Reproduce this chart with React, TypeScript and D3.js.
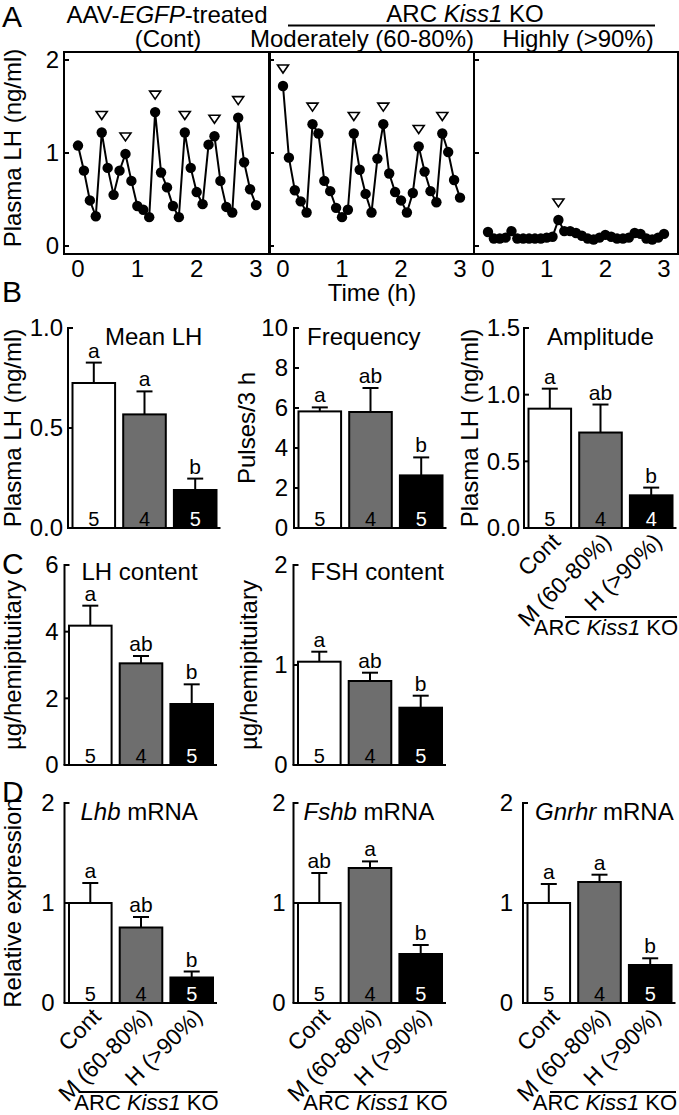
import React, { useEffect, useRef } from 'react';
import * as d3 from 'd3';

const FONT = '"Liberation Sans", Arial, Helvetica, sans-serif';

// ---- Panel A: plasma LH every 6 min for 3 h ----
const sampleTimes = [0, 0.1, 0.2, 0.3, 0.4, 0.5, 0.6, 0.7, 0.8, 0.9, 1.0, 1.1, 1.2, 1.3, 1.4, 1.5,
  1.6, 1.7, 1.8, 1.9, 2.0, 2.1, 2.2, 2.3, 2.4, 2.5, 2.6, 2.7, 2.8, 2.9, 3.0];
const contLH = [1.08, 0.81, 0.49, 0.32, 1.22, 0.84, 0.55, 0.81, 0.99, 0.70, 0.43, 0.39, 0.31, 1.44, 0.79, 0.63,
  0.43, 0.31, 1.22, 0.84, 0.58, 0.45, 1.09, 1.18, 0.70, 0.42, 0.36, 1.38, 0.90, 0.61, 0.44];
const moderateLH = [1.72, 0.95, 0.60, 0.48, 0.36, 1.31, 1.21, 0.70, 0.59, 0.41, 0.31, 0.39, 1.21, 0.82, 0.56, 0.36,
  0.94, 1.31, 0.78, 0.58, 0.49, 0.36, 0.57, 1.07, 0.80, 0.59, 0.47, 1.21, 1.01, 0.71, 0.52];
const highLH = [0.15, 0.08, 0.08, 0.09, 0.16, 0.08, 0.08, 0.08, 0.08, 0.08, 0.09, 0.10, 0.28, 0.16, 0.16, 0.14,
  0.11, 0.08, 0.07, 0.09, 0.12, 0.10, 0.08, 0.08, 0.09, 0.14, 0.13, 0.08, 0.07, 0.09, 0.13];
const contPulses = [4, 8, 13, 18, 23, 27];
const moderatePulses = [0, 5, 12, 17, 23, 27];
const highPulses = [12];
const timeTicks = [0, 1, 2, 3];
const lhTicks = [0, 1, 2];

// ---- Panels B-D: group means, SEM, n, letters ----
const groups = ['Cont', 'M (60-80%)', 'H (>90%)'];
const groupFills = ['#ffffff', '#6e6e6e', '#000000'];

const meanLH = [0.725, 0.568, 0.19];
const meanLHSem = [0.102, 0.115, 0.057];
const meanLHN = [5, 4, 5];
const meanLHLetters = ['a', 'a', 'b'];

const frequency = [5.83, 5.8, 2.63];
const frequencySem = [0.2, 1.2, 0.9];
const frequencyN = [5, 4, 5];
const frequencyLetters = ['a', 'ab', 'b'];

const amplitude = [0.895, 0.716, 0.245];
const amplitudeSem = [0.15, 0.21, 0.058];
const amplitudeN = [5, 4, 4];
const amplitudeLetters = ['a', 'ab', 'b'];

const lhContent = [4.18, 3.05, 1.83];
const lhContentSem = [0.6, 0.22, 0.59];
const lhContentN = [5, 4, 5];
const lhContentLetters = ['a', 'ab', 'b'];

const fshContent = [1.033, 0.84, 0.573];
const fshContentSem = [0.1, 0.083, 0.12];
const fshContentN = [5, 4, 5];
const fshContentLetters = ['a', 'ab', 'b'];

const lhbMRNA = [1.0, 0.755, 0.255];
const lhbSem = [0.2, 0.105, 0.06];
const lhbN = [5, 4, 5];
const lhbLetters = ['a', 'ab', 'b'];

const fshbMRNA = [1.0, 1.35, 0.49];
const fshbSem = [0.3, 0.066, 0.09];
const fshbN = [5, 4, 5];
const fshbLetters = ['ab', 'a', 'b'];

const gnrhrMRNA = [1.0, 1.21, 0.38];
const gnrhrSem = [0.19, 0.073, 0.067];
const gnrhrN = [5, 4, 5];
const gnrhrLetters = ['a', 'a', 'b'];

type Seg = { t: string; i?: boolean };

function addSegs(sel: any, segs: Seg[]) {
  segs.forEach(s => {
    sel.append('tspan').attr('font-style', s.i ? 'italic' : 'normal').text(s.t);
  });
}

const App = () => {
  const svgRef = useRef<SVGSVGElement>(null);

  useEffect(() => {
    if (!svgRef.current) return;
    const svg = d3.select(svgRef.current);
    svg.selectAll('*').remove();
    svg.attr('font-family', FONT).style('white-space', 'pre');

    const text = (x: number, y: number, segs: Seg[] | string, size = 24, anchor = 'middle') => {
      const t = svg.append('text').attr('x', x).attr('y', y).attr('font-size', size).attr('text-anchor', anchor);
      if (typeof segs === 'string') t.text(segs);
      else addSegs(t, segs);
      return t;
    };

    // panel letters
    text(2, 27, 'A', 30, 'start');
    text(2, 302, 'B', 30, 'start');
    text(2, 574, 'C', 30, 'start');
    text(2, 802, 'D', 30, 'start');

    // ---------- Panel A ----------
    text(167, 23, [{ t: 'AAV-' }, { t: 'EGFP', i: true }, { t: '-treated' }]);
    text(168, 47, '(Cont)');
    text(465, 22, [{ t: 'ARC ' }, { t: 'Kiss1', i: true }, { t: ' KO' }]);
    svg.append('line').attr('x1', 288).attr('x2', 655).attr('y1', 25.5).attr('y2', 25.5)
      .attr('stroke', '#000').attr('stroke-width', 2);
    text(362, 47, 'Moderately (60-80%)');
    text(578, 47, 'Highly (>90%)');

    const aTop = 52, aBottom = 254;
    const yA = d3.scaleLinear().domain([0, 2]).range([246, 60]);
    const aPanels = [
      { x0: 64, x1: 270, values: contLH, pulses: contPulses },
      { x0: 269, x1: 474, values: moderateLH, pulses: moderatePulses },
      { x0: 474, x1: 678, values: highLH, pulses: highPulses },
    ];
    aPanels.forEach((p, pi) => {
      const x = d3.scaleLinear().domain([0, 3]).range([p.x0 + 14, p.x1 - 14]);
      const g = svg.append('g');
      g.append('rect').attr('x', p.x0).attr('y', aTop).attr('width', p.x1 - p.x0).attr('height', aBottom - aTop)
        .attr('fill', 'none').attr('stroke', '#000').attr('stroke-width', 2);
      lhTicks.forEach(v => {
        g.append('line').attr('x1', p.x0).attr('x2', p.x0 + 5).attr('y1', yA(v)).attr('y2', yA(v))
          .attr('stroke', '#000').attr('stroke-width', 2);
        if (pi === 0) text(p.x0 - 5, yA(v), String(v), 24, 'end').attr('dy', '0.35em');
      });
      timeTicks.forEach(v => text(x(v), 277, String(v), 24));

      const line = d3.line<number>().x((_, i) => x(sampleTimes[i])).y(d => yA(d));
      g.append('path').datum(p.values).attr('d', line).attr('fill', 'none')
        .attr('stroke', '#000').attr('stroke-width', 2);
      g.selectAll('circle').data(p.values).join('circle')
        .attr('cx', (_, i) => x(sampleTimes[i])).attr('cy', d => yA(d)).attr('r', 5.2).attr('fill', '#000');
      g.selectAll('path.tri').data(p.pulses).join('path').attr('class', 'tri')
        .attr('d', i => {
          const cx = x(sampleTimes[i]);
          const cy = yA(p.values[i]) - 17;
          return `M${cx - 5.5},${cy - 4}L${cx + 5.5},${cy - 4}L${cx},${cy + 4}Z`;
        })
        .attr('fill', '#fff').attr('stroke', '#000').attr('stroke-width', 1.6);
    });
    text(372, 301, 'Time (h)');
    text(21, 148, 'Plasma LH (ng/ml)').attr('transform', 'rotate(-90,21,148)');

    // ---------- Bar panels ----------
    type BarCfg = {
      axisX: number; yBottom: number; max: number; ticks: number[]; fmt: (v: number) => string;
      values: number[]; sems: number[]; ns: number[]; letters: string[];
      title: Seg[]; titleDx: number; titleDy: number; ylabel?: string; ylabelX?: number; tickGap: number;
      groupLabels?: number;
    };

    const drawBars = (c: BarCfg) => {
      const y = d3.scaleLinear().domain([0, c.max]).range([c.yBottom, c.yBottom - 200]);
      const start = c.axisX + 4.5;
      const x = d3.scaleBand<string>().domain(groups).range([start, start + 144]).paddingInner(0.16);
      const g = svg.append('g');

      g.selectAll('rect').data(c.values).join('rect')
        .attr('x', (_, i) => x(groups[i])!).attr('y', d => y(d))
        .attr('width', x.bandwidth()).attr('height', d => c.yBottom - y(d))
        .attr('fill', (_, i) => groupFills[i]).attr('stroke', '#000').attr('stroke-width', 2);

      c.values.forEach((v, i) => {
        const cx = x(groups[i])! + x.bandwidth() / 2;
        const top = y(v + c.sems[i]);
        g.append('line').attr('x1', cx).attr('x2', cx).attr('y1', y(v)).attr('y2', top)
          .attr('stroke', '#000').attr('stroke-width', 2);
        g.append('line').attr('x1', cx - 8).attr('x2', cx + 8).attr('y1', top).attr('y2', top)
          .attr('stroke', '#000').attr('stroke-width', 2);
        text(cx, top - 5, c.letters[i], 21);
        text(cx, c.yBottom - 2, String(c.ns[i]), 20).attr('fill', i === 2 ? '#fff' : '#000');
      });

      // axes
      g.append('line').attr('x1', c.axisX).attr('x2', c.axisX).attr('y1', y(c.max) - 1).attr('y2', c.yBottom)
        .attr('stroke', '#000').attr('stroke-width', 2);
      g.append('line').attr('x1', c.axisX - 1).attr('x2', start + 148).attr('y1', c.yBottom).attr('y2', c.yBottom)
        .attr('stroke', '#000').attr('stroke-width', 2);
      c.ticks.forEach(v => {
        g.append('line').attr('x1', c.axisX).attr('x2', c.axisX + 5).attr('y1', y(v)).attr('y2', y(v))
          .attr('stroke', '#000').attr('stroke-width', 2);
        text(c.axisX - c.tickGap, y(v), c.fmt(v), 24, 'end').attr('dy', '0.35em');
      });

      text(c.axisX + c.titleDx, c.yBottom - 200 + c.titleDy, c.title, 24, 'start');
      if (c.ylabel) {
        const yc = c.yBottom - 100;
        text(c.ylabelX!, yc, c.ylabel).attr('transform', `rotate(-90,${c.ylabelX},${yc})`);
      }

      if (c.groupLabels !== undefined) {
        groups.forEach((gname, i) => {
          const px = x(gname)! + x.bandwidth() / 2 + 12;
          const py = c.yBottom + 15;
          text(px, py, gname, 23, 'end').attr('transform', `rotate(-45,${px},${py})`);
        });
        const ly = c.yBottom + 89;
        g.append('line').attr('x1', c.axisX + c.groupLabels).attr('x2', c.axisX + 153)
          .attr('y1', ly).attr('y2', ly).attr('stroke', '#000').attr('stroke-width', 2);
        text(Math.min(c.axisX + 82, 606), ly + 18, [{ t: 'ARC ' }, { t: 'Kiss1', i: true }, { t: ' KO' }], 22);
      }
    };

    const f1 = d3.format('.1f');
    const f0 = (v: number) => String(v);

    drawBars({ axisX: 68, yBottom: 528, max: 1, ticks: [0, 0.5, 1], fmt: f1, values: meanLH, sems: meanLHSem,
      ns: meanLHN, letters: meanLHLetters, title: [{ t: 'Mean LH' }], titleDx: 37, titleDy: 17,
      ylabel: 'Plasma LH (ng/ml)', ylabelX: 21, tickGap: 5 });
    drawBars({ axisX: 294, yBottom: 528, max: 10, ticks: [0, 2, 4, 6, 8, 10], fmt: f0, values: frequency,
      sems: frequencySem, ns: frequencyN, letters: frequencyLetters, title: [{ t: 'Frequency' }], titleDx: 13,
      titleDy: 17, ylabel: 'Pulses/3 h', ylabelX: 255, tickGap: 6 });
    drawBars({ axisX: 524, yBottom: 528, max: 1.5, ticks: [0, 0.5, 1, 1.5], fmt: f1, values: amplitude,
      sems: amplitudeSem, ns: amplitudeN, letters: amplitudeLetters, title: [{ t: 'Amplitude' }], titleDx: 23,
      titleDy: 17, ylabel: 'Plasma LH (ng/ml)', ylabelX: 478, tickGap: 4, groupLabels: 41 });

    drawBars({ axisX: 64.5, yBottom: 765, max: 6, ticks: [0, 2, 4, 6], fmt: f0, values: lhContent,
      sems: lhContentSem, ns: lhContentN, letters: lhContentLetters, title: [{ t: 'LH content' }], titleDx: 17,
      titleDy: 15, ylabel: 'µg/hemipituitary', ylabelX: 21, tickGap: 6 });
    drawBars({ axisX: 293.5, yBottom: 765, max: 2, ticks: [0, 1, 2], fmt: f0, values: fshContent,
      sems: fshContentSem, ns: fshContentN, letters: fshContentLetters, title: [{ t: 'FSH content' }], titleDx: 17,
      titleDy: 15, ylabel: 'µg/hemipituitary', ylabelX: 257, tickGap: 6 });

    drawBars({ axisX: 64.5, yBottom: 1003, max: 2, ticks: [0, 1, 2], fmt: f0, values: lhbMRNA,
      sems: lhbSem, ns: lhbN, letters: lhbLetters, title: [{ t: 'Lhb', i: true }, { t: ' mRNA' }], titleDx: 16,
      titleDy: 17, ylabel: 'Relative expression', ylabelX: 21, tickGap: 10, groupLabels: 14 });
    drawBars({ axisX: 293.5, yBottom: 1003, max: 2, ticks: [0, 1, 2], fmt: f0, values: fshbMRNA,
      sems: fshbSem, ns: fshbN, letters: fshbLetters, title: [{ t: 'Fshb', i: true }, { t: ' mRNA' }], titleDx: 10,
      titleDy: 17, tickGap: 8, groupLabels: 32 });
    drawBars({ axisX: 523, yBottom: 1003, max: 2, ticks: [0, 1, 2], fmt: f0, values: gnrhrMRNA,
      sems: gnrhrSem, ns: gnrhrN, letters: gnrhrLetters, title: [{ t: 'Gnrhr', i: true }, { t: ' mRNA' }], titleDx: 12,
      titleDy: 17, tickGap: 10, groupLabels: 27 });
  }, []);

  return (
    <svg ref={svgRef} width={679} height={1115}
      style={{ position: 'absolute', left: 0, top: 0, background: '#fff' }} />
  );
};

export default App;
